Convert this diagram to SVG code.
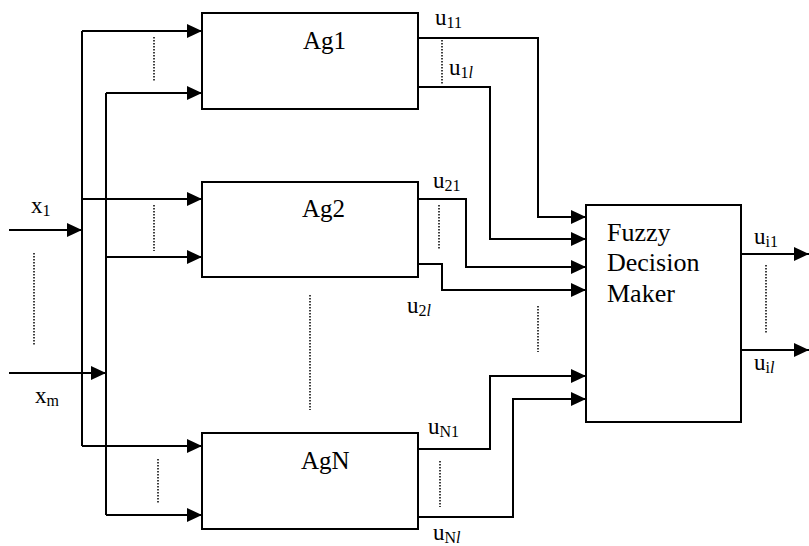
<svg xmlns="http://www.w3.org/2000/svg" width="809" height="546" viewBox="0 0 809 546">
<defs>
<marker id="ah" markerUnits="userSpaceOnUse" markerWidth="16" markerHeight="16" refX="15" refY="7" orient="auto">
<path d="M0,0 L15,7 L0,14 Z" fill="#000"/>
</marker>
<style>
.box{fill:#fff;stroke:#000;stroke-width:2}
.ln{fill:none;stroke:#000;stroke-width:2}
.ar{fill:none;stroke:#000;stroke-width:2;marker-end:url(#ah)}
.dot{fill:none;stroke:#000;stroke-width:1.5;stroke-dasharray:1.5 1.5}
text{fill:#000;font-family:"Liberation Serif","Times New Roman",serif}
.ag{font-size:25px}
.big{font-size:26px}
.lab{font-size:23px}
.sub{font-size:16px}
</style>
</defs>
<rect width="809" height="546" fill="#fff"/>
<g id="connectors">
<path class="ln" d="M82 31 V446"/>
<path class="ln" d="M106 93 V515"/>
<path class="ar" d="M82 31 H202"/>
<path class="ar" d="M106 93 H202"/>
<path class="ar" d="M82 199 H202"/>
<path class="ar" d="M106 257 H202"/>
<path class="ar" d="M82 446 H202"/>
<path class="ar" d="M106 515 H202"/>
<path class="ar" d="M9 230 H82"/>
<path class="ar" d="M9 373 H106"/>
<path class="ar" d="M418 38 H538 V217 H586"/>
<path class="ar" d="M418 87 H490 V239 H586"/>
<path class="ar" d="M418 199 H466 V267 H586"/>
<path class="ar" d="M418 264 H442 V290 H586"/>
<path class="ar" d="M418 449 H490 V376 H586"/>
<path class="ar" d="M418 517 H513 V399 H586"/>
<path class="ar" d="M741 254 H809"/>
<path class="ar" d="M741 350 H809"/>
<path class="dot" d="M154 37 V82"/>
<path class="dot" d="M154 205 V251"/>
<path class="dot" d="M158 459 V504"/>
<path class="dot" d="M34 253 V346"/>
<path class="dot" d="M442 40 V85"/>
<path class="dot" d="M439 205 V250"/>
<path class="dot" d="M440 461 V507"/>
<path class="dot" d="M538 306 V352"/>
<path class="dot" d="M766 265 V334"/>
<path class="dot" d="M310 295 V410"/>
</g>
<g id="Ag1">
<rect class="box" x="202" y="13" width="216" height="96"/>
<text class="ag" x="303" y="49">Ag1</text>
</g>
<g id="Ag2">
<rect class="box" x="202" y="182" width="216" height="95"/>
<text class="ag" x="302" y="217">Ag2</text>
</g>
<g id="AgN">
<rect class="box" x="202" y="433" width="216" height="96"/>
<text class="ag" x="301" y="469">AgN</text>
</g>
<g id="FDM">
<rect class="box" x="586" y="205" width="155" height="217"/>
<text class="big" x="607" y="241">Fuzzy</text>
<text class="big" x="607" y="271">Decision</text>
<text class="big" x="607" y="302">Maker</text>
</g>
<g id="labels">
<text class="lab" x="31" y="213">x<tspan class="sub" dy="3">1</tspan></text>
<text class="lab" x="35" y="403">x<tspan class="sub" dy="3">m</tspan></text>
<text class="lab" x="435" y="25">u<tspan class="sub" dy="3">11</tspan></text>
<text class="lab" x="449" y="75">u<tspan class="sub" dy="3">1<tspan font-style="italic">l</tspan></tspan></text>
<text class="lab" x="433" y="188">u<tspan class="sub" dy="3">21</tspan></text>
<text class="lab" x="407" y="313">u<tspan class="sub" dy="3">2<tspan font-style="italic">l</tspan></tspan></text>
<text class="lab" x="428" y="434">u<tspan class="sub" dy="3">N1</tspan></text>
<text class="lab" x="433" y="540">u<tspan class="sub" dy="3">N<tspan font-style="italic">l</tspan></tspan></text>
<text class="lab" x="754" y="244">u<tspan class="sub" dy="3">i1</tspan></text>
<text class="lab" x="754" y="370">u<tspan class="sub" dy="3">i<tspan font-style="italic">l</tspan></tspan></text>
</g>
</svg>
